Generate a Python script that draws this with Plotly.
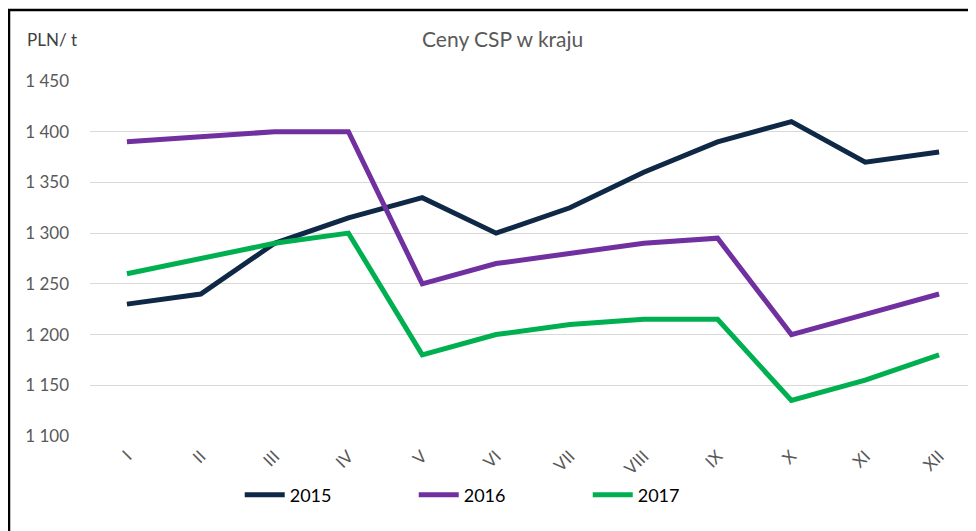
import plotly.graph_objects as go

months = ["I", "II", "III", "IV", "V", "VI", "VII", "VIII", "IX", "X", "XI", "XII"]
y2015 = [1230, 1240, 1290, 1315, 1335, 1300, 1325, 1360, 1390, 1410, 1370, 1380]
y2016 = [1390, 1395, 1400, 1400, 1250, 1270, 1280, 1290, 1295, 1200, 1220, 1240]
y2017 = [1260, 1275, 1290, 1300, 1180, 1200, 1210, 1215, 1215, 1135, 1155, 1180]
series_names = ["2015", "2016", "2017"]
colors = ["#0F2846", "#7030A0", "#00B050"]
yticks = [1100, 1150, 1200, 1250, 1300, 1350, 1400, 1450]

fig = go.Figure()
for name, vals, col in zip(series_names, [y2015, y2016, y2017], colors):
    fig.add_trace(go.Scatter(x=months, y=vals, name=name, mode="lines",
                             line=dict(color=col, width=5)))

FONT = "Lato, Open Sans, sans-serif"
W, H = 968, 523
L, T, B = 82, 73, 95
PW, PH = W - L, H - T - B
fig.update_layout(
    width=W, height=H,
    margin=dict(l=L, r=0, t=T, b=B),
    paper_bgcolor="white", plot_bgcolor="white",
    separators=", ",
    font=dict(family=FONT, size=17, color="#595959"),
    title=dict(text="Ceny CSP w kraju", x=0.511, xref="container", xanchor="center",
               y=0.939, yref="container", yanchor="middle",
               font=dict(size=21, color="#595959", family=FONT)),
    xaxis=dict(showgrid=False, showline=False, tickangle=-45, ticks="",
               range=[-0.5, 11.5], ticklabelstandoff=6,
               tickfont=dict(size=17, color="#595959"), zeroline=False),
    yaxis=dict(range=[1100, 1450], tickvals=yticks, tickformat=",d",
               showgrid=True, gridcolor="#D9D9D9", gridwidth=1.3, zeroline=False,
               ticks="", ticklabelstandoff=20, showline=False,
               tickfont=dict(size=17, color="#595959")),
    legend=dict(orientation="h", x=0.169, xanchor="left", y=-0.166, yanchor="middle",
                font=dict(size=18, color="#000000", family=FONT), traceorder="normal",
                itemwidth=40, entrywidth=119),
    showlegend=True,
)
fig.add_annotation(text="PLN/ t", xref="paper", yref="paper",
                   x=(17 - L) / PW, y=(T + PH - 32) / PH, xanchor="left", yanchor="middle",
                   showarrow=False, font=dict(size=17, color="#404040", family=FONT))
fig.add_shape(type="rect", xref="paper", yref="paper",
              x0=(1 - L) / PW, x1=(990 - L) / PW,
              y0=(T + PH - 545) / PH, y1=(T + PH - 2) / PH,
              line=dict(color="black", width=2.5), fillcolor="rgba(0,0,0,0)", layer="below")

fig.write_html("out.html")
